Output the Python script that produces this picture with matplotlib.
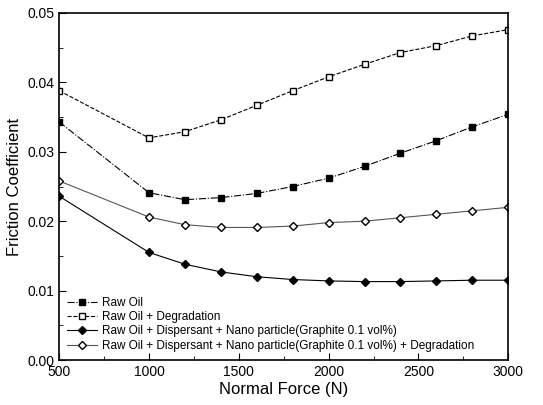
import matplotlib
matplotlib.use("Agg")
import matplotlib.pyplot as plt
from matplotlib.ticker import MultipleLocator

# data
force = [500, 1000, 1200, 1400, 1600, 1800, 2000, 2200, 2400, 2600, 2800, 3000]
raw_oil = [0.0343, 0.0241, 0.0231, 0.0234, 0.0240, 0.0250, 0.0262, 0.0279, 0.0298, 0.0316, 0.0336, 0.0354]
raw_oil_deg = [0.0388, 0.0320, 0.0329, 0.0346, 0.0367, 0.0388, 0.0408, 0.0426, 0.0443, 0.0453, 0.0467, 0.0476]
nano = [0.0236, 0.0155, 0.0138, 0.0127, 0.0120, 0.0116, 0.0114, 0.0113, 0.0113, 0.0114, 0.0115, 0.0115]
nano_deg = [0.0258, 0.0206, 0.0195, 0.0191, 0.0191, 0.0193, 0.0198, 0.0200, 0.0205, 0.0210, 0.0215, 0.0220]

labels = ["Raw Oil",
          "Raw Oil + Degradation",
          "Raw Oil + Dispersant + Nano particle(Graphite 0.1 vol%)",
          "Raw Oil + Dispersant + Nano particle(Graphite 0.1 vol%) + Degradation"]

plt.rcParams['font.family'] = ['Liberation Sans', 'DejaVu Sans']

fig = plt.figure(figsize=(5.43, 4.05), dpi=100)
ax = fig.add_axes([0.109, 0.111, 0.827, 0.857])

ax.plot(force, raw_oil, color="black", linestyle="-.", linewidth=0.8,
        marker="s", markersize=4, markerfacecolor="black", label=labels[0])
ax.plot(force, raw_oil_deg, color="black", linestyle="--", linewidth=0.8,
        marker="s", markersize=4, markerfacecolor="white", label=labels[1])
ax.plot(force, nano, color="black", linestyle="-", linewidth=0.8,
        marker="D", markersize=4.5, markerfacecolor="black", label=labels[2])
ax.plot(force, nano_deg, color="#555555", linestyle="-", linewidth=0.8,
        marker="D", markersize=4.5, markerfacecolor="white", markeredgecolor="black",
        label=labels[3])

ax.set_xlim(500, 3000)
ax.set_ylim(0.0, 0.05)
ax.xaxis.set_major_locator(MultipleLocator(500))
ax.xaxis.set_minor_locator(MultipleLocator(250))
ax.yaxis.set_major_locator(MultipleLocator(0.01))
ax.yaxis.set_minor_locator(MultipleLocator(0.005))
ax.yaxis.set_major_formatter(plt.FormatStrFormatter("%.2f"))
ax.tick_params(which="both", direction="in", labelsize=10)
ax.tick_params(which="major", length=5)
ax.tick_params(which="minor", length=3)
for s in ax.spines.values():
    s.set_linewidth(1.2)

ax.set_xlabel("Normal Force (N)", fontsize=12, labelpad=2)
ax.set_ylabel("Friction Coefficient", fontsize=12)

ax.legend(loc="lower left", frameon=False, fontsize=8.5, handlelength=2.5,
          labelspacing=0.2, borderaxespad=0.3, handletextpad=0.4,
          bbox_to_anchor=(0.0, 0.0))

fig.savefig("out.png", dpi=100)
